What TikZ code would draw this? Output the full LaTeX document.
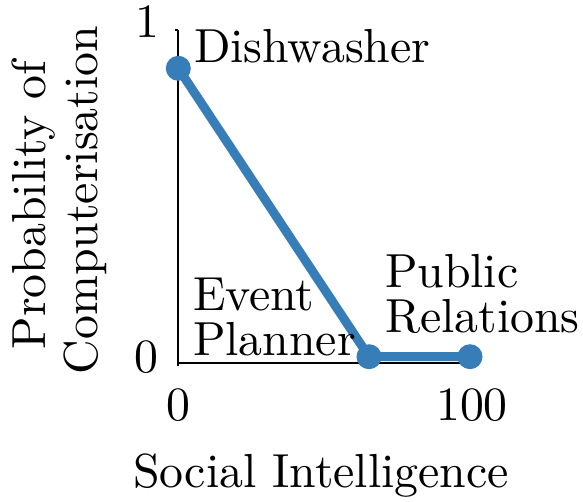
\documentclass[tikz,border=0pt]{standalone}
\definecolor{dblue}{HTML}{377EB8}
\begin{document}
\begin{tikzpicture}[x=0.5pt,y=-0.5pt,
  lbl/.style={inner sep=0pt, outer sep=0pt, scale=2.39, font=\fontsize{10}{12}\selectfont},
  axisline/.style={line width=1pt, black},
  dataline/.style={line width=4.5pt, dblue, line join=round},
  datadot/.style={circle, fill=dblue, inner sep=0pt, minimum size=12.5pt}]
\useasboundingbox (0,0) rectangle (583,502);
% axes
\coordinate (top) at (178,30);
\coordinate (org) at (178,362.5);
\coordinate (xend) at (470,362.5);
\draw[axisline] (top) -- (org) -- (xend);
\draw[axisline] (top) -- ++(-3,0);
\draw[axisline] (org) -- ++(0,3.5);
% tick labels
\node[lbl, anchor=base] (y1) at (147,38) {1};
\node[lbl, anchor=base] (y0) at (146,372) {0};
\node[lbl, anchor=base] (x0) at (178,420) {0};
\node[lbl, anchor=base] (x100) at (472,420) {100};
% axis titles
\node[lbl, anchor=base] (xt) at (321,487) {Social Intelligence};
\node[lbl, anchor=base, rotate=90] (yt1) at (45,205) {Probability of};
\node[lbl, anchor=base, rotate=90] (yt2) at (97,200) {Computerisation};
% data
\node[datadot] (dw) at (178.3,68.3) {};
\node[datadot] (ep) at (369,356.7) {};
\node[datadot] (pr) at (470,356.7) {};
\draw[dataline] (dw.center) -- (ep.center) -- (pr.center);
% point labels
\node[lbl, anchor=base west] (ldw) at (194,63) {Dishwasher};
\node[lbl, anchor=base west] (lep1) at (193,310) {Event};
\node[lbl, anchor=base west] (lep2) at (193,355) {Planner};
\node[lbl, anchor=base west] (lpr1) at (385,287) {Public};
\node[lbl, anchor=base west] (lpr2) at (385,332) {Relations};
\end{tikzpicture}
\end{document}
